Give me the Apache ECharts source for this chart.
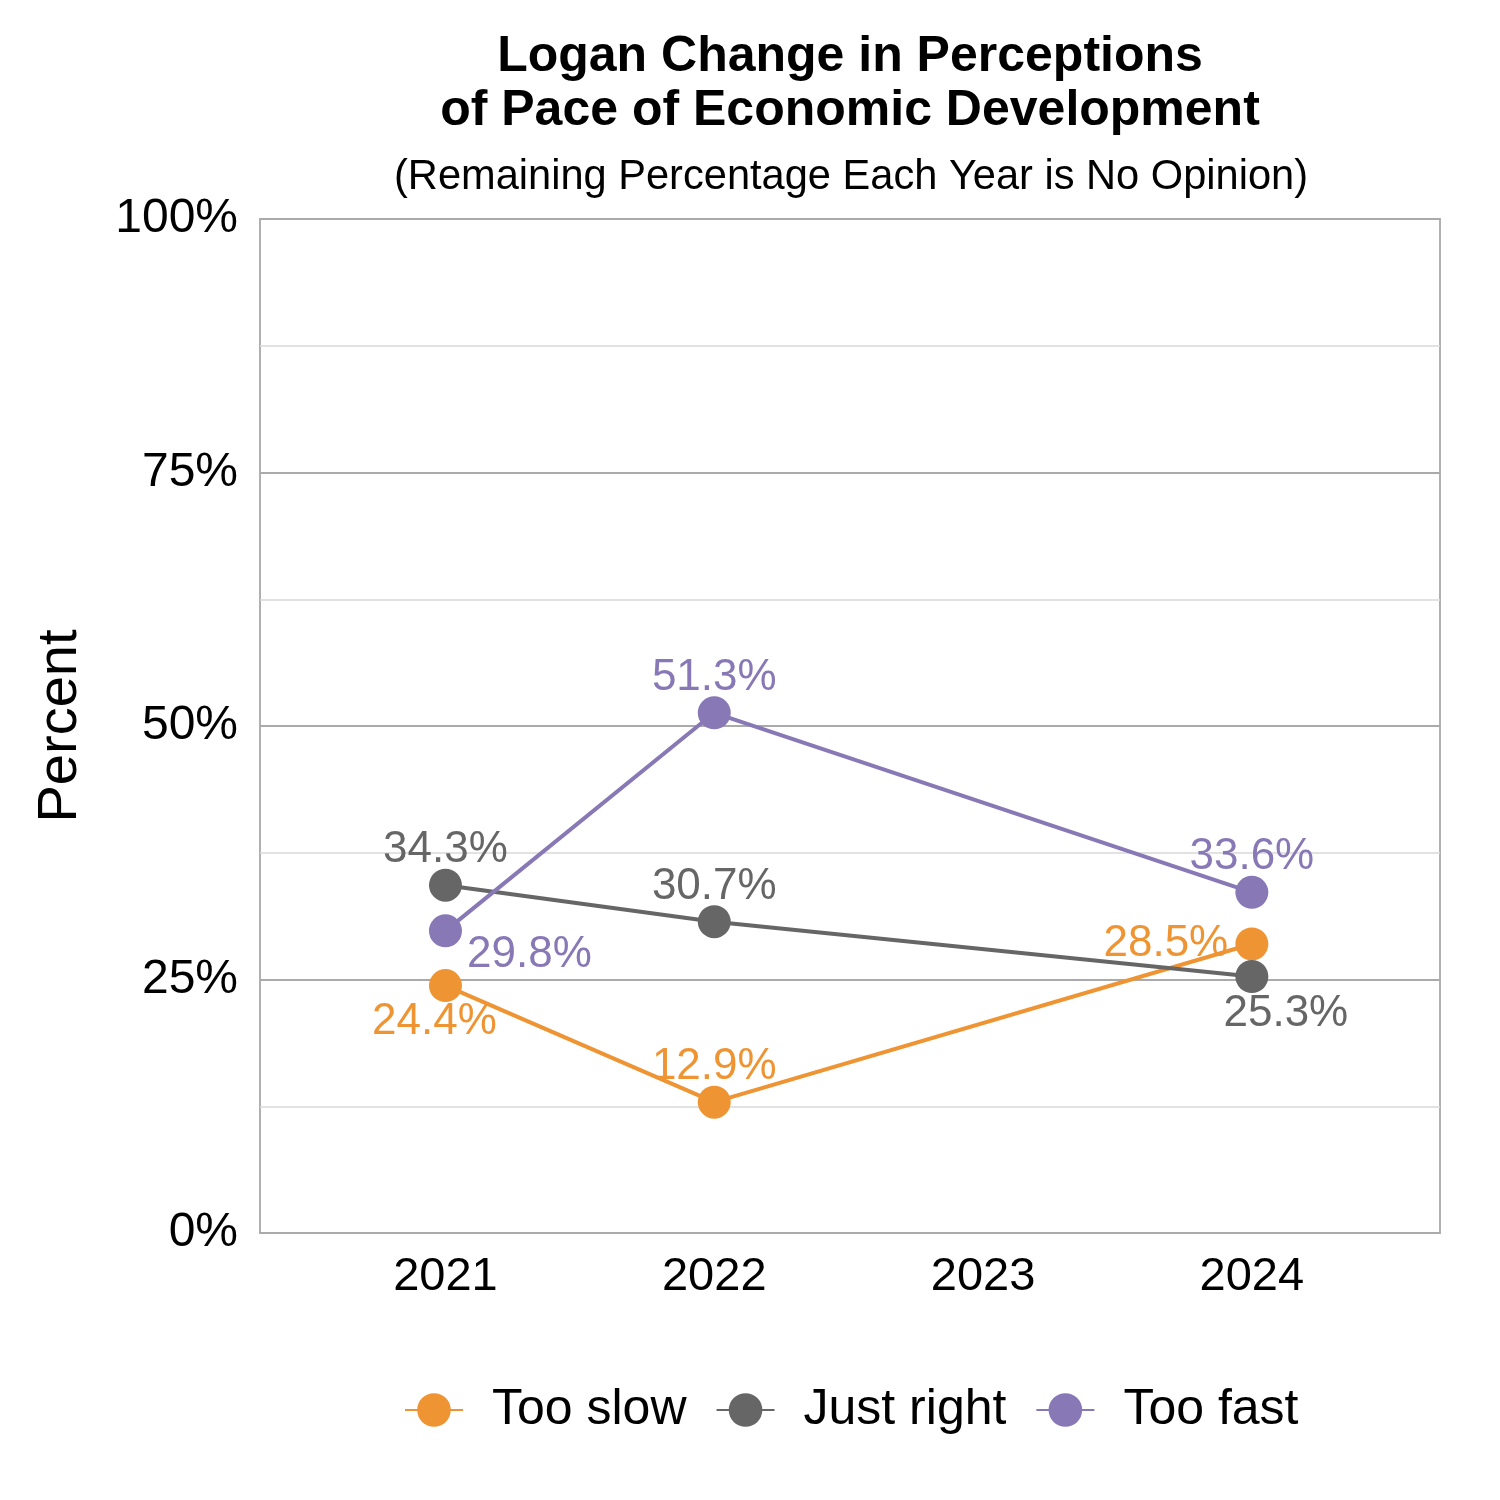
<!DOCTYPE html>
<html><head><meta charset="utf-8">
<script src="https://cdn.jsdelivr.net/npm/echarts@6/dist/echarts.min.js"></script>
<style>html,body{margin:0;padding:0;background:#fff}#c{width:1500px;height:1500px}</style>
</head><body><div id="c"></div>
<script>
const years = [2021, 2022, 2023, 2024];
const seriesNames = ['Too slow', 'Just right', 'Too fast'];
const tooSlow = [24.4, 12.9, null, 28.5];
const justRight = [34.3, 30.7, null, 25.3];
const tooFast = [29.8, 51.3, null, 33.6];
const yTicks = [0, 25, 50, 75, 100];

const colors = ['#EF9433', '#666666', '#8878B6'];
const labelOffsets = [
  [[-11, 36], [0, -35], null, [-86, 0]],
  [[0, -35], [0, -35], null, [34, 37]],
  [[84, 24], [0, -35], null, [0, -35]]
];
const FONT = "'Liberation Sans', Arial, sans-serif";

function buildData(vals, si) {
  const out = [];
  years.forEach((y, i) => {
    if (vals[i] == null) return;
    out.push({
      value: [y, vals[i]],
      label: { offset: labelOffsets[si][i] }
    });
  });
  return out;
}

const allVals = [tooSlow, justRight, tooFast];
const chart = echarts.init(document.getElementById('c'));
chart.setOption({
  animation: false,
  backgroundColor: '#fff',
  textStyle: { fontFamily: FONT },
  title: [
    {
      text: 'Logan Change in Perceptions\nof Pace of Economic Development',
      left: 845, textAlign: 'center', top: 25,
      textStyle: { fontFamily: FONT, fontSize: 50, fontWeight: 'bold', color: '#000', lineHeight: 54 }
    },
    {
      text: '(Remaining Percentage Each Year is No Opinion)',
      left: 846, textAlign: 'center', top: 151,
      textStyle: { fontFamily: FONT, fontSize: 41.6, fontWeight: 'normal', color: '#000', lineHeight: 44 }
    }
  ],
  grid: {
    left: 260, right: 60, top: 219, bottom: 267,
    outerBoundsMode: 'none', containLabel: false,
    show: true, borderColor: '#b0b0b0', borderWidth: 2, backgroundColor: 'transparent'
  },
  legend: {
    left: 399, top: 1380,
    itemWidth: 58, itemHeight: 42, itemGap: 29,
    data: seriesNames,
    formatter: '{a|{name}}',
    textStyle: {
      fontFamily: FONT, fontSize: 50, color: '#000',
      rich: { a: { fontFamily: FONT, fontSize: 50, color: '#000', padding: [0, 0, 0, 24] } }
    }
  },
  xAxis: {
    type: 'value', min: 2020.31, max: 2024.7,
    axisLine: { show: false },
    axisTick: { show: false },
    splitLine: { show: false },
    axisLabel: {
      customValues: years, margin: 21,
      fontFamily: FONT, fontSize: 47, color: '#000',
      formatter: v => String(v)
    }
  },
  yAxis: {
    type: 'value', min: 0, max: 100, interval: 25,
    name: 'Percent', nameLocation: 'middle', nameGap: 171,
    nameTextStyle: { fontFamily: FONT, fontSize: 56, color: '#000' },
    axisLine: { show: false },
    axisTick: { show: false },
    axisLabel: {
      customValues: yTicks, margin: 22,
      fontFamily: FONT, fontSize: 48, color: '#000',
      formatter: v => v + '%'
    },
    splitLine: { show: true, lineStyle: { color: '#aaaaaa', width: 2 } },
    minorTick: { show: false, splitNumber: 2 },
    minorSplitLine: { show: true, lineStyle: { color: '#d9d9d9', width: 1.5 } }
  },
  series: seriesNames.map((name, si) => ({
    name,
    type: 'line',
    data: buildData(allVals[si], si),
    color: colors[si],
    symbol: 'circle',
    symbolSize: 33,
    lineStyle: { width: 4, color: colors[si] },
    itemStyle: { color: colors[si] },
    label: {
      show: true, position: 'inside',
      fontFamily: FONT, fontSize: 44, color: colors[si],
      formatter: p => p.value[1].toFixed(1) + '%'
    },
    z: 2 + si
  }))
});
</script></body></html>
